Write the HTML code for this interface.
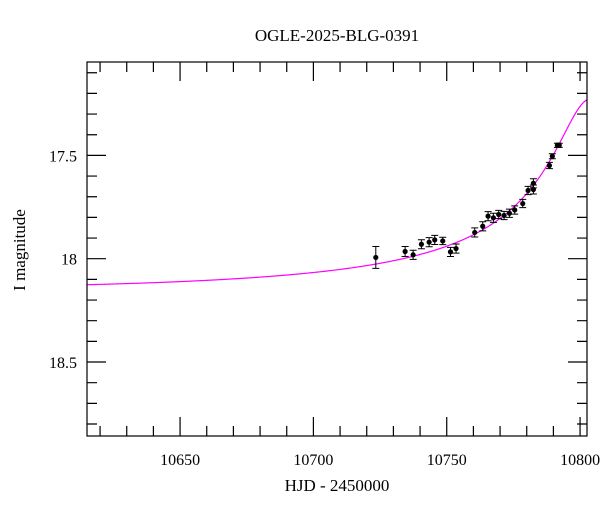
<!DOCTYPE html>
<html><head><meta charset="utf-8"><style>
html,body{margin:0;padding:0;background:#fff;}
svg text{font-family:"Liberation Serif",serif;fill:#000;}
</style></head><body>
<svg id="chart" width="600" height="512" viewBox="0 0 600 512" xmlns="http://www.w3.org/2000/svg">
<text x="337" y="41" font-size="17" text-anchor="middle">OGLE-2025-BLG-0391</text>
<text x="337" y="491" font-size="17" text-anchor="middle">HJD - 2450000</text>
<text x="25" y="250" font-size="17" text-anchor="middle" transform="rotate(-90 25 250)">I magnitude</text>
<g id="plot"></g>
</svg>
<script>
const days = [10723.4,10734.4,10737.4,10740.5,10743.4,10745.5,10748.5,10751.4,10753.5,10760.5,10763.5,10765.5,10767.5,10769.5,10771.5,10773.5,10775.5,10778.5,10780.5,10782.5,10782.5,10788.5,10789.6,10791.5,10792.2];
const mags = [17.994,17.965,17.981,17.930,17.920,17.909,17.914,17.967,17.951,17.873,17.843,17.794,17.802,17.786,17.791,17.780,17.764,17.733,17.670,17.635,17.665,17.549,17.504,17.451,17.451];
const errs = [0.053,0.024,0.022,0.022,0.022,0.022,0.018,0.022,0.022,0.022,0.022,0.022,0.022,0.02,0.02,0.02,0.02,0.02,0.02,0.022,0.022,0.015,0.012,0.01,0.01];
const xTicks = [10650,10700,10750,10800];
const yTicks = [17.5,18,18.5];
const model = {t0:10804, tE:170, u0:0.069, fs:0.1, base:18.155};

const L=87,R=587,T=62,B=436;
const xMin=10615.1,xMax=10802.6,yMin=17.048,yMax=18.858;
const X=v=>L+(v-xMin)/(xMax-xMin)*(R-L);
const Y=v=>T+(v-yMin)/(yMax-yMin)*(B-T);
const NS="http://www.w3.org/2000/svg";
const g=document.getElementById('plot');
function mk(tag,attrs){const e=document.createElementNS(NS,tag);for(const k in attrs)e.setAttribute(k,attrs[k]);g.appendChild(e);return e;}

function modelMag(t){const tau=(t-model.t0)/model.tE;const u=Math.sqrt(model.u0*model.u0+tau*tau);const A=(u*u+2)/(u*Math.sqrt(u*u+4));return model.base-2.5*Math.log10(model.fs*(A-1)+1);}
let d="";for(let px=L;px<=R;px+=1){const t=xMin+(px-L)/(R-L)*(xMax-xMin);d+=(px===L?"M":"L")+px+","+Y(modelMag(t)).toFixed(2);}
const curve=mk('path',{d:d,fill:'none',stroke:'#ff00ff','stroke-width':1.2});



for(let i=0;i<days.length;i++){
 const x=X(days[i]),y=Y(mags[i]),y1=Y(mags[i]-errs[i]),y2=Y(mags[i]+errs[i]);
 const eb=mk('path',{d:`M${x},${y1}L${x},${y2}M${x-3.5},${y1}L${x+3.5},${y1}M${x-3.5},${y2}L${x+3.5},${y2}`,stroke:'#000','stroke-width':1,fill:'none'});
 
 
 const c=mk('circle',{cx:x,cy:y,r:2.6,fill:'#000'});
 
 
}

const fr=mk('rect',{x:L,y:T,width:R-L,height:B-T,fill:'none',stroke:'#000','stroke-width':1.2});



let td="";
for(let v=10620;v<=10800;v+=10){const x=X(v);const len=(v%50===0)?19:10;td+=`M${x},${B}L${x},${B-len}M${x},${T}L${x},${T+len}`;}
for(let k=171;k<=188;k++){const v=k/10;const y=Y(v);const len=(k%5===0)?19:10;td+=`M${L},${y}L${L+len},${y}M${R},${y}L${R-len},${y}`;}
const tk=mk('path',{d:td,stroke:'#000','stroke-width':1.2,fill:'none'});



for(const v of xTicks){const t=mk('text',{x:X(v),y:465,'font-size':16,'text-anchor':'middle'});t.textContent=String(v);
 
 }
for(const v of yTicks){const t=mk('text',{x:77,y:Y(v)+6,'font-size':16,'text-anchor':'end'});t.textContent=String(v);
 
 }
</script>
</body></html>
